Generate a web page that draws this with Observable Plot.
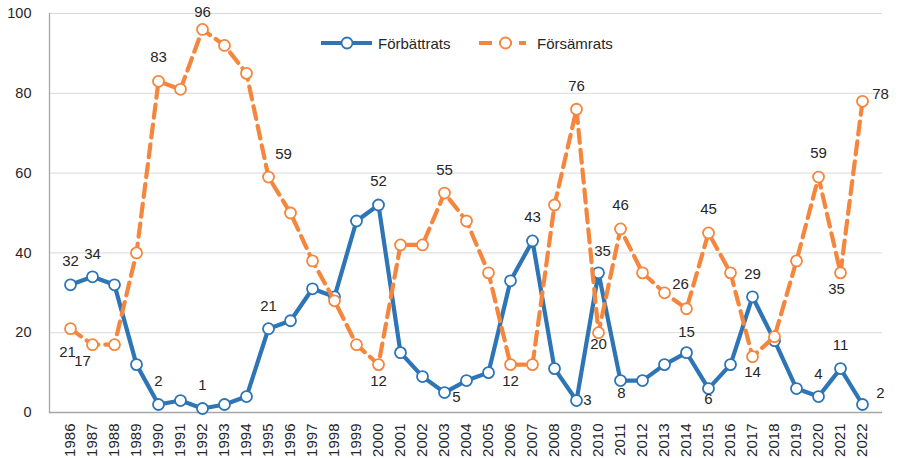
<!DOCTYPE html>
<html>
<head>
<meta charset="utf-8">
<script src="https://cdn.jsdelivr.net/npm/d3@7"></script>
<script src="https://cdn.jsdelivr.net/npm/@observablehq/plot@0.6"></script>
<style>
  html, body { margin: 0; padding: 0; background: #fff; }
  #wrap { position: relative; width: 904px; height: 458px; font-family: "Liberation Sans", Arial, sans-serif; }
  #legend { position: absolute; left: 0; top: 0; pointer-events: none; }
  #wrap g[aria-label="x-axis tick label"] { font-size: 15px; }
  #wrap g[aria-label="y-axis tick label"] { font-size: 14.5px; }
</style>
</head>
<body>
<div id="wrap"></div>
<script>
// ---- data ----
const years = [1986,1987,1988,1989,1990,1991,1992,1993,1994,1995,1996,1997,1998,1999,2000,2001,2002,2003,2004,2005,2006,2007,2008,2009,2010,2011,2012,2013,2014,2015,2016,2017,2018,2019,2020,2021,2022];
const forbattrats = [32,34,32,12,2,3,1,2,4,21,23,31,29,48,52,15,9,5,8,10,33,43,11,3,35,8,8,12,15,6,12,29,18,6,4,11,2];
const forsamrats = [21,17,17,40,83,81,96,92,85,59,50,38,28,17,12,42,42,55,48,35,12,12,52,76,20,46,35,30,26,45,35,14,19,38,59,35,78];
const seriesNames = ["Förbättrats", "Försämrats"];
const yTicks = [0,20,40,60,80,100];
const blueLabelYears = [1986,1987,1990,1992,1995,2000,2003,2007,2009,2010,2011,2014,2015,2017,2020,2021,2022];
const orangeLabelYears = [1986,1987,1990,1992,1995,2000,2003,2006,2009,2010,2011,2014,2015,2017,2020,2021,2022];

// ---- styling / label placement ----
const BLUE = "#2e75b6", ORANGE = "#f4873d", TEXT = "#262626";
const blueOffsets = {1986:[0,-24],1987:[0,-23],1990:[0,-23],1992:[0,-23],1995:[0,-23],2000:[0,-24],2003:[12,5],2007:[0,-24],2009:[11,0],2010:[4,-22],2011:[1,13],2014:[0,-20],2015:[0,11],2017:[0,-23],2020:[0,-22],2021:[0,-23],2022:[18,-11]};
const orangeOffsets = {1986:[-3,23],1987:[-10,17],1990:[0,-24],1992:[0,-17],1995:[15,-23],2000:[0,17],2003:[0,-23],2006:[0,17],2009:[0,-23],2010:[0,11],2011:[0,-24],2014:[-6,-25],2015:[0,-24],2017:[0,16],2020:[0,-24],2021:[-4,16],2022:[18,-7]};

const blue = years.map((y, i) => ({year: y, value: forbattrats[i]}));
const orange = years.map((y, i) => ({year: y, value: forsamrats[i]}));

function labelMarks(data, labelYears, offsets) {
  return labelYears.map(yr => {
    const d = data.find(e => e.year === yr);
    const [dx, dy] = offsets[yr];
    return Plot.text([d], {x: "year", y: "value", text: d => String(d.value), dx, dy, fill: TEXT, fontSize: 15});
  });
}

const chart = Plot.plot({
  width: 904,
  height: 458,
  marginLeft: 49,
  marginRight: 22,
  marginTop: 13,
  marginBottom: 46,
  style: {fontFamily: "'Liberation Sans', Arial, sans-serif", color: TEXT, background: "#fff"},
  x: {type: "point", domain: years, label: null},
  y: {domain: [0, 100], label: null},
  marks: [
    Plot.gridY(yTicks, {stroke: "#d9d9d9", strokeOpacity: 1, strokeWidth: 1}),
    Plot.frame({anchor: "left", stroke: "#a6a6a6", strokeWidth: 1.3}),
    Plot.ruleY([0], {stroke: "#a6a6a6", strokeWidth: 1.5}),
    Plot.axisY(yTicks, {tickSize: 0, tickPadding: 18, fontSize: 14.5, fill: TEXT, label: null}),
    Plot.axisX(years, {tickSize: 0, tickPadding: 11, tickRotate: -90, fontSize: 15, fill: TEXT, label: null, tickFormat: d => String(d)}),
    Plot.line(blue, {x: "year", y: "value", stroke: BLUE, strokeWidth: 4.2, strokeLinejoin: "round"}),
    Plot.dot(blue, {x: "year", y: "value", r: 5.5, fill: "white", stroke: BLUE, strokeWidth: 1.8}),
    Plot.line(orange, {x: "year", y: "value", stroke: ORANGE, strokeWidth: 4.2, strokeDasharray: "13,7", strokeLinejoin: "round"}),
    Plot.dot(orange, {x: "year", y: "value", r: 5.5, fill: "white", stroke: ORANGE, strokeWidth: 1.8}),
    ...labelMarks(blue, blueLabelYears, blueOffsets),
    ...labelMarks(orange, orangeLabelYears, orangeOffsets)
  ]
});

const wrap = document.getElementById("wrap");
wrap.appendChild(chart);

// legend overlay
const ns = "http://www.w3.org/2000/svg";
const leg = document.createElementNS(ns, "svg");
leg.setAttribute("id", "legend");
leg.setAttribute("width", 904);
leg.setAttribute("height", 80);
leg.innerHTML = `
  <line x1="321" y1="43" x2="372" y2="43" stroke="${BLUE}" stroke-width="4.2"/>
  <circle cx="347" cy="43" r="5.5" fill="#fff" stroke="${BLUE}" stroke-width="1.8"/>
  <text x="378" y="48.5" font-size="15" fill="${TEXT}" font-family="Liberation Sans, Arial, sans-serif">${seriesNames[0]}</text>
  <line x1="479" y1="43" x2="526" y2="43" stroke="${ORANGE}" stroke-width="4.2" stroke-dasharray="13,7"/>
  <circle cx="505.5" cy="43" r="5.5" fill="#fff" stroke="${ORANGE}" stroke-width="1.8"/>
  <text x="537" y="48.5" font-size="15" fill="${TEXT}" font-family="Liberation Sans, Arial, sans-serif">${seriesNames[1]}</text>
`;
wrap.appendChild(leg);
</script>
</body>
</html>
